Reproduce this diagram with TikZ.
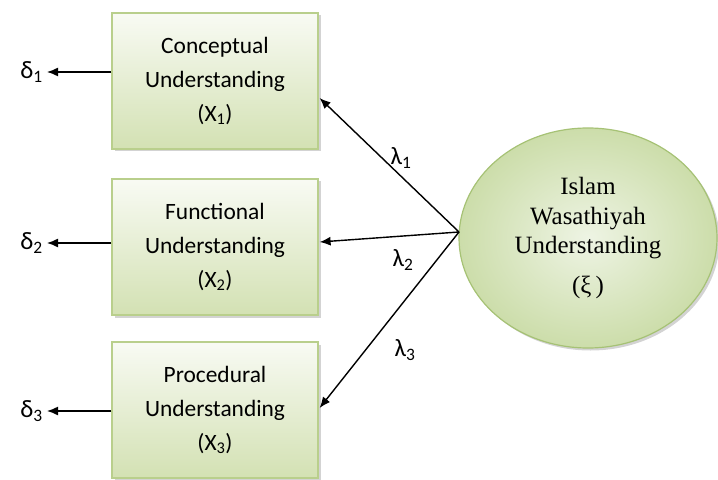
\documentclass[tikz,border=0pt]{standalone}
\usepackage{fontspec}
\setmainfont{Carlito}
\newfontfamily\serifx{Liberation Serif}
\usetikzlibrary{shapes.geometric,arrows.meta,shadows}
\definecolor{boxline}{HTML}{B9CF8C}
\definecolor{boxlow}{HTML}{D3E1B3}
\definecolor{ellline}{HTML}{A6C275}
\definecolor{ellout}{HTML}{CCDDAA}
\definecolor{ellin}{HTML}{EEF4E4}
\tikzset{
  x=1bp, y=-1bp,
  mbox/.style={draw=boxline, line width=1.2bp, top color=white!85!boxlow, bottom color=boxlow,
    minimum width=206bp, minimum height=136bp, align=center, inner sep=0pt,
    font=\fontsize{23.5}{34}\selectfont,
    drop shadow={shadow xshift=2.5bp, shadow yshift=-2.5bp, opacity=0.35, fill=gray}},
  latent/.style={ellipse, draw=ellline, line width=1.2bp, inner color=ellin, outer color=ellout,
    minimum width=258bp, minimum height=220bp, align=center, inner sep=0pt,
    font=\serifx\fontsize{25}{30}\selectfont,
    drop shadow={shadow xshift=2.5bp, shadow yshift=-2.5bp, opacity=0.35, fill=gray}},
  conn/.style={line width=1.4bp, -{Latex[length=11bp,width=9bp]}},
  lab/.style={font=\fontsize{25}{26}\selectfont, inner sep=1bp},
}
\begin{document}
\begin{tikzpicture}
\useasboundingbox (0,0) rectangle (718,480);
\node[mbox] (b1) at (215,81) {Conceptual\\Understanding\\(X\textsubscript{1})};
\node[mbox] (b2) at (215,247) {Functional\\Understanding\\(X\textsubscript{2})};
\node[mbox] (b3) at (215,410) {Procedural\\Understanding\\(X\textsubscript{3})};
\node[latent] (xi) at (588,238) {Islam\\Wasathiyah\\Understanding\\[10bp](ξ\,)};
\node[lab, anchor=east] (d1) at (44,72) {δ\textsubscript{1}};
\node[lab, anchor=east] (d2) at (44,243) {δ\textsubscript{2}};
\node[lab, anchor=east] (d3) at (44,411) {δ\textsubscript{3}};
\coordinate (src) at (459,232);
\draw[conn] (b1.west |- d1.east) -- ([xshift=3bp]d1.east);
\draw[conn] (b2.west |- d2.east) -- ([xshift=3bp]d2.east);
\draw[conn] (b3.west |- d3.east) -- ([xshift=3bp]d3.east);
\draw[conn] (src) -- ([yshift=-17bp,xshift=1bp]b1.east);
\draw[conn] (src) -- ([yshift=5bp,xshift=1bp]b2.east);
\draw[conn] (src) -- ([yshift=2bp,xshift=1bp]b3.east);
\node[lab] (l1) at (401,158) {λ\textsubscript{1}};
\node[lab] (l2) at (403,260) {λ\textsubscript{2}};
\node[lab] (l3) at (405,350) {λ\textsubscript{3}};
\end{tikzpicture}
\end{document}
